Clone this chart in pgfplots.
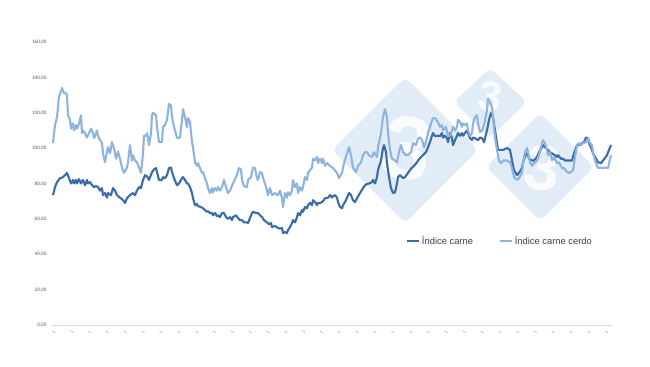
\documentclass[border=0pt]{standalone}
\usepackage{pgfplots}
\pgfplotsset{compat=1.18}
\usepackage{fontspec}
\setmainfont{Liberation Sans}
\newfontfamily\carlito{Carlito}
\definecolor{darkblue}{RGB}{58,108,168}
\definecolor{lightblue}{RGB}{141,180,224}
\definecolor{wm}{RGB}{226,236,247}
\definecolor{ticktext}{RGB}{89,89,89}
\definecolor{legtext}{RGB}{64,64,64}
\pgfplotstableread{
x y
53 73.4
55 78
57 80.8
60 83
63 83.6
65 84.7
67 86
69 83
71 80
73 82
74 80
76 82
77 80
79 82.5
81 80
83 82
85 79
87 82
88 80
90 80.8
92 79
94 78
96 78.5
98 78
100 76
102 77.4
103 73.4
105 74.6
107 72
108 74.6
111 73.4
113 77.4
115 76
117 73.4
120 72
123 70.6
125 69
127 71.7
130 73.4
133 74.6
135 73.4
137 76
139 78
141 77.4
143 82
145 84.7
147 84
149 82
152 86.4
154 88
156 88.7
157 86.4
159 82
162 82
163 83.6
165 83
167 84.7
169 88.7
171 89
172 86.4
174 83
177 79
179 80
182 83
183 83.6
185 82
187 80
188 80
190 78
192 74.6
193 71.7
195 67.8
197 68.4
198 67.2
201 66.7
203 66
205 65
207 64
208 64.4
210 63.3
212 63.3
213 62
215 63.3
217 61.6
218 62
220 61
222 63.3
224 63.3
226 61
228 60
230 61
232 59.3
233 61
236 62
238 60.5
240 59.3
242 59.3
244 58
247 58
248 57.6
250 60.5
252 63.3
253 64
256 63.3
258 63.3
260 62
262 61
264 59.3
267 58
269 57
271 57.6
272 55.4
275 56
278 54.8
280 54.5
282 54.8
283 52
285 52.5
287 52
288 53.7
290 55.4
292 57.6
293 59.3
295 58
297 61
298 63.3
300 62
302 65
303 64
305 66.7
307 66
308 67.8
310 69
312 67.8
313 70.6
315 69.5
317 67.8
318 69
320 69
322 69.5
323 70
325 71.7
327 71.7
328 72
330 73.4
332 72
333 72.9
335 73.4
337 72
338 69.5
340 66.7
342 66
343 67.8
345 69.5
347 72
349 74.6
351 73.4
353 70.6
355 69.5
357 71.7
360 74.6
363 77.4
365 79
367 79.7
369 80
372 80.8
373 82
375 80
377 83.6
378 87.6
381 93
383 100
384 101.7
386 97.7
387 91.5
389 83.6
391 77.4
393 74.6
395 75
397 80
398 83.6
400 84.7
402 83.6
403 83
405 83.6
408 86
410 87.6
412 89
414 90
417 92
418 93
421 95
423 96
426 97.7
428 100.5
430 103.4
432 107
433 108.5
435 106.8
438 107
440 106.8
442 108.5
443 106
445 107
447 105.6
448 103.4
450 108.5
452 105.6
453 101.7
455 104.5
457 107
458 108.5
460 107
462 108.5
463 107
465 108.5
467 110
468 108.5
470 105.6
472 104.5
473 106
475 105.6
478 104.5
480 106
482 105.6
484 103.4
487 110
489 116
491 119.8
493 117.5
495 110
497 102.8
498 99
501 99
503 99
507 100
510 99
512 93
514 87.6
517 84.7
519 86
522 88.7
523 92
526 97
528 96
529 94
532 93
534 93
537 95
539 97.7
542 100.5
543 101.7
545 100.5
548 99
550 97.7
552 97
555 96
557 95
558 96
561 94
563 94
565 93
568 93
572 93
574 97
577 101.7
579 101.7
582 102.8
584 103.4
586 106
588 105.6
589 102.8
591 100.5
593 97
596 94
598 92
601 91.5
603 93
607 96
609 99
611 101.7
}\carne
\pgfplotstableread{
x y
53 102.8
55 113
57 117.5
59 129
62 134
64 131
66 131
67 130
68 118.6
70 116
71 111
73 114
74 110
76 113
77 111
79 114
81 118.6
82 108.5
83 110
85 108.5
87 106
89 108.5
91 111
93 108.5
94 105.6
97 110
98 107
100 104.5
102 103
103 97
105 92
107 98
108 100.5
110 97
112 103.4
114 100
116 94
118 98
120 94
122 89
124 86
127 89
128 92
130 101.7
132 93
133 96
135 93
137 92
139 89
141 86
143 97
144 107
146 107
147 108.5
149 101.7
151 108.5
152 118.6
153 120
156 118.6
157 112
159 103.4
162 103.4
163 112
165 113
167 116
169 125
171 124
172 117.5
174 112
177 106
178 105.6
180 106
182 116
183 122
185 117.5
187 112
188 117
190 114.7
192 103.4
193 100.5
195 92
197 90
198 91.5
200 88.7
202 86
203 86.4
205 83
207 80
208 77.4
210 74.6
212 77.4
213 75
215 77.4
217 76
218 78
220 76
222 78
224 82
226 78
228 74.6
230 76
233 80
237 85
239 88.7
241 88
242 82
244 78.5
247 78
248 82
251 83.6
253 89
255 88.7
257 83
258 82
260 86.4
262 86
263 83
265 80
267 76
268 73.4
270 77.4
272 73.4
275 74.6
278 73.4
280 76
282 71.7
283 66.7
285 74.6
287 72
288 75
290 73.4
292 76
293 82
295 78
297 80
298 74.6
300 78
302 76
303 78
305 83.6
307 82
308 86
310 87.6
312 89
313 94
315 93
317 95
318 91.5
320 94
322 91.5
323 94
325 90
327 91.5
330 90
333 88.7
337 86
339 83
342 86
344 91.5
347 97
349 100.5
351 96
353 89
356 86.4
358 90
361 92
363 96
365 97.7
367 97.7
369 96
372 95
374 97.7
377 95
378 100.5
381 108.5
383 117.5
385 122
387 117.5
388 108.5
390 99
392 94
395 93
397 92
399 97.7
401 101.7
403 97.7
406 96
408 96
411 97.7
413 102.8
416 101.7
418 105.6
420 106
422 104.5
424 100.5
427 105.6
428 108.5
431 114
433 117
435 117
438 114.7
440 112
442 113
443 110
446 112
448 107
450 107
452 110
453 112
455 110
457 112
458 116
460 114.7
462 112
463 114
465 113
467 114
468 110
470 107
472 108.5
473 114
475 117.5
477 118.6
478 114
480 109
482 110
484 113
487 121.5
488 128
490 126
492 123
493 117.5
495 106
497 99
499 93
501 91.5
503 93
507 93
510 92
512 88.7
514 83.6
517 82
519 83
522 86
523 91.5
525 97.7
527 100
528 97.7
530 92
532 90
534 91.5
537 93
539 96
541 100.5
543 104.5
545 102.8
547 99
548 96
550 97.7
552 93
554 95
557 91.5
559 92
562 88.7
564 88.7
567 86.4
570 86
573 87.6
575 95
577 101.7
579 102.8
581 101.7
583 102.8
586 103.4
588 105.6
590 102.8
592 101.7
593 97.7
595 93
597 90
598 88.7
600 89
602 88.7
605 89
608 88.7
609 91.5
611 96
}\cerdo
\begin{document}
\begin{tikzpicture}[x=1bp,y=1bp]
\path[use as bounding box,fill=white] (0,0) rectangle (650,366);
% watermark (page coordinates, y = 366 - pixel row)
\fill[wm,rounded corners=7bp] (332,216) -- (405,289) -- (478,216) -- (405,143) -- cycle;
\fill[wm,rounded corners=6bp] (454,264) -- (490,298) -- (527,264) -- (490,228) -- cycle;
\fill[wm,rounded corners=7bp] (486,199) -- (540,253) -- (594,199) -- (540,145) -- cycle;
\node[text=white,opacity=0.8,font=\bfseries\fontsize{90}{90}\selectfont,rotate=-10] at (407,218) {3};
\node[text=white,opacity=0.8,font=\bfseries\fontsize{42}{42}\selectfont,rotate=-10] at (490,270) {3};
\node[text=white,opacity=0.8,font=\bfseries\fontsize{64}{64}\selectfont,rotate=-10] at (543,198) {3};
\begin{axis}[
  at={(52bp,41bp)}, anchor=south west,
  scale only axis, width=560bp, height=283bp,
  xmin=52, xmax=612, ymin=0, ymax=160,
  axis y line*=left,
  y axis line style={draw=none},
  axis x line*=bottom,
  x axis line style={draw=black!15, line width=0.8pt, -},
  major tick length=0pt,
  ytick={0,20,...,160},
  yticklabel style={font=\carlito\fontsize{5.2}{6}\selectfont, text=ticktext, xshift=-2bp},
  yticklabel={\pgfmathprintnumber[fixed,fixed zerofill,precision=2,1000 sep={},assume math mode=true]{\tick}},
  xtick=\empty,
  clip=false,
  legend columns=2,
  legend style={at={(axis description cs:0.6268,0.2968)}, anchor=west, draw=none, fill=none,
    font=\fontsize{9.4}{11}\selectfont, text=legtext,
    /tikz/every even column/.append style={column sep=24bp}},
  legend image code/.code={\draw[#1,line width=1.8bp] (0bp,0bp) -- (12bp,0bp);},
]
\addplot[darkblue, line width=2.1bp, line join=round] table[x=x,y=y] {\carne};
\addlegendentry{Índice carne}
\addplot[lightblue, line width=2.1bp, line join=round] table[x=x,y=y] {\cerdo};
\addlegendentry{Índice carne cerdo}
\end{axis}
% small rotated x tick labels
\foreach \i in {0,...,31} {
  \node[text=black!45,font=\carlito\fontsize{7}{7}\selectfont,rotate=-45,inner sep=0] at ({53.5+\i*17.83},33) {--};
}
\end{tikzpicture}
\end{document}
